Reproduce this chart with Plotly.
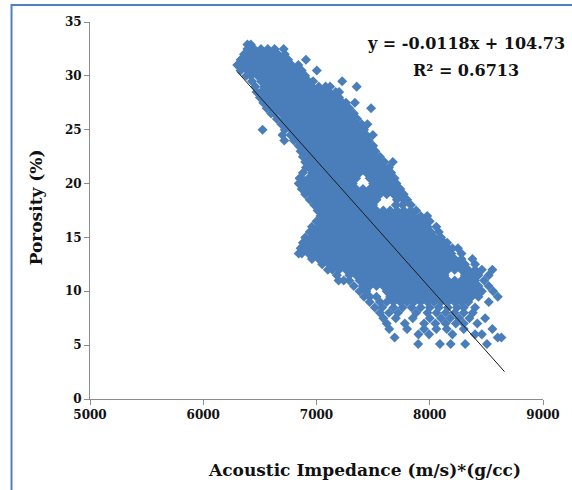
import plotly.graph_objects as go

# ---- data: rows of (porosity, [acoustic impedance ...]) ----
upper_lobe = [
    (32.9, [6390, 6420]),
    (32.5, [6390, 6450, 6510, 6570, 6630, 6710]),
    (32.0, [6360, 6420, 6480, 6540, 6600, 6660, 6720]),
    (31.5, [6330, 6390, 6450, 6510, 6570, 6630, 6690, 6750, 6907]),
    (31.0, [6300, 6360, 6420, 6480, 6540, 6600, 6660, 6720, 6780, 6840]),
    (30.5, [6330, 6390, 6450, 6510, 6570, 6630, 6690, 6750, 6810, 6870, 7003]),
    (30.0, [6380, 6420, 6480, 6540, 6600, 6660, 6720, 6780, 6840, 6900]),
    (29.5, [6430, 6510, 6570, 6630, 6690, 6750, 6810, 6870, 6930, 6970, 7227]),
    (29.0, [6460, 6540, 6600, 6660, 6720, 6780, 6840, 6900, 6960, 7020, 7080, 7120, 7355]),
    (28.5, [6470, 6510, 6570, 6630, 6690, 6750, 6810, 6870, 6930, 6990, 7050, 7110, 7170, 7200]),
    (28.0, [6500, 6540, 6600, 6660, 6720, 6780, 6840, 6900, 6960, 7020, 7080, 7140, 7200]),
    (27.5, [6530, 6570, 6630, 6690, 6750, 6810, 6870, 6930, 6990, 7050, 7110, 7170, 7230, 7260, 7339]),
    (27.0, [6560, 6600, 6660, 6720, 6780, 6840, 6900, 6960, 7020, 7080, 7140, 7200, 7260, 7290, 7482]),
    (26.5, [6600, 6630, 6690, 6750, 6810, 6870, 6930, 6990, 7050, 7110, 7170, 7230, 7290, 7330]),
    (26.0, [6650, 6720, 6780, 6840, 6900, 6960, 7020, 7080, 7140, 7200, 7260, 7320, 7360]),
    (25.5, [6690, 6750, 6810, 6870, 6930, 6990, 7050, 7110, 7170, 7230, 7290, 7350, 7400, 7450]),
    (25.0, [6524, 6720, 6780, 6840, 6900, 6960, 7020, 7080, 7140, 7200, 7260, 7320, 7380, 7420]),
    (24.5, [6700, 6770, 6810, 6870, 6930, 6990, 7050, 7110, 7170, 7230, 7290, 7350, 7410, 7440, 7498]),
    (24.0, [6716, 6800, 6840, 6900, 6960, 7020, 7080, 7140, 7200, 7260, 7320, 7380, 7440, 7460]),
    (23.5, [6843, 6870, 6930, 6990, 7050, 7110, 7170, 7230, 7290, 7350, 7410, 7470, 7500]),
    (23.0, [6860, 6900, 6960, 7020, 7080, 7140, 7200, 7260, 7320, 7380, 7440, 7500, 7520]),
    (22.5, [6880, 6930, 6990, 7050, 7110, 7170, 7230, 7290, 7350, 7410, 7470, 7530, 7560]),
]

lower_lobe = [
    (22.0, [6900, 6960, 7020, 7080, 7140, 7200, 7260, 7320, 7380, 7440, 7500, 7560, 7600, 7674]),
    (21.5, [6907, 6930, 6990, 7050, 7110, 7170, 7230, 7290, 7350, 7410, 7470, 7530, 7590, 7640]),
    (21.0, [6880, 6960, 7020, 7080, 7140, 7200, 7260, 7320, 7380, 7440, 7500, 7560, 7620, 7660]),
    (20.5, [6850, 6870, 6930, 6990, 7050, 7110, 7170, 7230, 7290, 7350, 7470, 7530, 7590, 7650, 7690]),
    (20.0, [6843, 6900, 6960, 7020, 7080, 7140, 7200, 7260, 7320, 7500, 7560, 7620, 7680, 7706]),
    (19.5, [6870, 6930, 6990, 7050, 7110, 7170, 7230, 7290, 7350, 7410, 7470, 7530, 7590, 7650, 7710, 7740]),
    (19.0, [6900, 6960, 7020, 7080, 7140, 7200, 7260, 7320, 7380, 7440, 7500, 7560, 7620, 7680, 7740, 7770]),
    (18.5, [6940, 6990, 7050, 7110, 7170, 7230, 7290, 7350, 7410, 7470, 7530, 7710, 7770, 7800]),
    (18.0, [6980, 7020, 7080, 7140, 7200, 7260, 7320, 7380, 7440, 7500, 7700, 7760, 7834]),
    (17.5, [7010, 7050, 7110, 7170, 7230, 7290, 7350, 7410, 7470, 7530, 7590, 7650, 7710, 7770, 7830, 7880]),
    (17.0, [7035, 7080, 7140, 7200, 7260, 7320, 7380, 7440, 7500, 7560, 7620, 7680, 7740, 7800, 7860, 7920, 7978]),
    (16.5, [7000, 7050, 7110, 7170, 7230, 7290, 7350, 7410, 7470, 7530, 7590, 7650, 7710, 7770, 7830, 7890, 7950, 8000]),
    (16.0, [6960, 7020, 7080, 7140, 7200, 7260, 7320, 7380, 7440, 7500, 7560, 7620, 7680, 7740, 7800, 7860, 7920, 7980, 8058]),
    (15.5, [6940, 6990, 7050, 7110, 7170, 7230, 7290, 7350, 7410, 7470, 7530, 7590, 7650, 7710, 7770, 7830, 7890, 7950, 8010, 8080]),
    (15.0, [6900, 6960, 7020, 7080, 7140, 7200, 7260, 7320, 7380, 7440, 7500, 7560, 7620, 7680, 7740, 7800, 7860, 7920, 7980, 8040, 8100]),
    (14.5, [6880, 6930, 6990, 7050, 7110, 7170, 7230, 7290, 7350, 7410, 7470, 7530, 7590, 7650, 7710, 7770, 7830, 7890, 7950, 8010, 8070, 8130, 8154]),
    (14.0, [6860, 6900, 6960, 7020, 7080, 7140, 7200, 7260, 7320, 7380, 7440, 7500, 7560, 7620, 7680, 7740, 7800, 7860, 7920, 7980, 8040, 8100, 8160, 8200, 8249]),
    (13.5, [6843, 6870, 6930, 6990, 7050, 7110, 7170, 7230, 7290, 7350, 7410, 7470, 7530, 7590, 7650, 7710, 7770, 7830, 7890, 7950, 8010, 8070, 8130, 8190, 8280]),
    (13.0, [6960, 7020, 7080, 7140, 7200, 7260, 7320, 7380, 7440, 7500, 7560, 7620, 7680, 7740, 7800, 7860, 7920, 7980, 8040, 8100, 8160, 8220, 8280, 8377]),
    (12.5, [7050, 7110, 7170, 7230, 7290, 7350, 7410, 7470, 7530, 7590, 7650, 7710, 7770, 7830, 7890, 7950, 8010, 8070, 8130, 8190, 8250, 8310, 8400]),
    (12.0, [7100, 7140, 7200, 7260, 7320, 7380, 7440, 7500, 7560, 7620, 7680, 7740, 7800, 7860, 7920, 7980, 8040, 8100, 8160, 8220, 8280, 8340, 8400, 8460, 8553]),
    (11.5, [7180, 7290, 7350, 7410, 7470, 7530, 7590, 7650, 7710, 7770, 7830, 7890, 7950, 8010, 8070, 8130, 8310, 8370, 8430, 8521]),
    (11.0, [7195, 7240, 7290, 7380, 7440, 7500, 7560, 7620, 7680, 7740, 7800, 7860, 7920, 7980, 8040, 8100, 8160, 8220, 8280, 8340, 8400, 8480]),
    (10.5, [7330, 7410, 7470, 7530, 7590, 7650, 7710, 7770, 7830, 7890, 7950, 8010, 8070, 8130, 8190, 8250, 8310, 8370, 8430, 8520]),
    (10.0, [7380, 7440, 7620, 7680, 7740, 7800, 7860, 7920, 7980, 8040, 8100, 8160, 8220, 8280, 8340, 8400, 8460, 8560]),
    (9.5, [7420, 7470, 7530, 7650, 7710, 7770, 7830, 7890, 7950, 8010, 8070, 8130, 8190, 8250, 8310, 8370, 8430, 8601]),
    (9.0, [7470, 7560, 7620, 7680, 7740, 7800, 7860, 7920, 7980, 8040, 8100, 8160, 8220, 8280, 8340, 8521]),
]

tail = [
    (8.5, [7515, 7580, 7680, 7760, 7840, 7920, 8000, 8080, 8160, 8240, 8300, 8400]),
    (8.0, [7560, 7640, 7720, 7880, 7980, 8060, 8140, 8220, 8300, 8380]),
    (7.5, [7590, 7700, 7850, 8000, 8100, 8180, 8260, 8350, 8489]),
    (7.0, [7620, 7780, 7950, 8050, 8140, 8230, 8300, 8420]),
    (6.5, [7642, 7800, 7950, 8058, 8150, 8300, 8553]),
    (6.0, [7900, 7994, 8200, 8400, 8460]),
    (5.7, [7690, 8600, 8633]),
    (5.1, [7898, 8090, 8185, 8313, 8505]),
]

slope = -0.0118
intercept = 104.73
trend_x = [6300, 8660]

x_ticks = [5000, 6000, 7000, 8000, 9000]
y_ticks = [0, 5, 10, 15, 20, 25, 30, 35]

impedance, porosity = [], []
for group in (upper_lobe, lower_lobe, tail):
    for p, xs in group:
        for xv in xs:
            impedance.append(xv)
            porosity.append(p)

trend_y = [slope * v + intercept for v in trend_x]

BLUE = "#4A7EBB"
FONT = "DejaVu Serif, serif"
INK = "#111111"

fig = go.Figure()
fig.add_trace(go.Scatter(
    x=impedance, y=porosity, mode="markers",
    marker=dict(symbol="diamond", size=7.7, color=BLUE, line=dict(width=0)),
    showlegend=False, hoverinfo="x+y",
))
fig.add_trace(go.Scatter(
    x=trend_x, y=trend_y, mode="lines",
    line=dict(color="#1a1a1a", width=1),
    showlegend=False,
))

L, R, T, B = 90, 26, 22, 91
W, H = 572, 490
pw, ph = W - L - R, H - T - B

def px_x(px):
    return (px - L) / pw

def px_y(py):
    return (H - B - py) / ph

axis_common = dict(
    showgrid=False, zeroline=False, showline=True, linecolor="#8c8c8c", linewidth=1,
    ticks="outside", ticklen=5, tickcolor="#8c8c8c",
    tickfont=dict(family=FONT, size=12, color=INK, weight="bold"),
)
fig.update_xaxes(range=[5000, 9000], tickvals=x_ticks, **axis_common)
fig.update_yaxes(range=[0, 35], tickvals=y_ticks, **axis_common)

fig.update_layout(
    width=W, height=H,
    margin=dict(l=L, r=R, t=T, b=B),
    plot_bgcolor="white", paper_bgcolor="white",
    shapes=[dict(type="rect", xref="paper", yref="paper",
                 x0=px_x(11), x1=px_x(600), y0=px_y(520), y1=px_y(5),
                 line=dict(color="#4F81BD", width=2), fillcolor="rgba(0,0,0,0)", layer="below")],
    annotations=[
        dict(text="y = -0.0118x + 104.73", xref="paper", yref="paper",
             x=px_x(468), y=px_y(44), showarrow=False, xanchor="center", yanchor="middle",
             font=dict(family=FONT, size=16, color=INK, weight="bold")),
        dict(text="R² = 0.6713", xref="paper", yref="paper",
             x=px_x(468), y=px_y(70), showarrow=False, xanchor="center", yanchor="middle",
             font=dict(family=FONT, size=16, color=INK, weight="bold")),
        dict(text="Acoustic Impedance (m/s)*(g/cc)", xref="paper", yref="paper",
             x=px_x(366), y=px_y(470), showarrow=False, xanchor="center", yanchor="middle",
             font=dict(family=FONT, size=17, color=INK, weight="bold")),
        dict(text="Porosity (%)", xref="paper", yref="paper", textangle=-90,
             x=px_x(36), y=px_y(207), showarrow=False, xanchor="center", yanchor="middle",
             font=dict(family=FONT, size=17, color=INK, weight="bold")),
    ],
)

fig.write_html("out.html")
